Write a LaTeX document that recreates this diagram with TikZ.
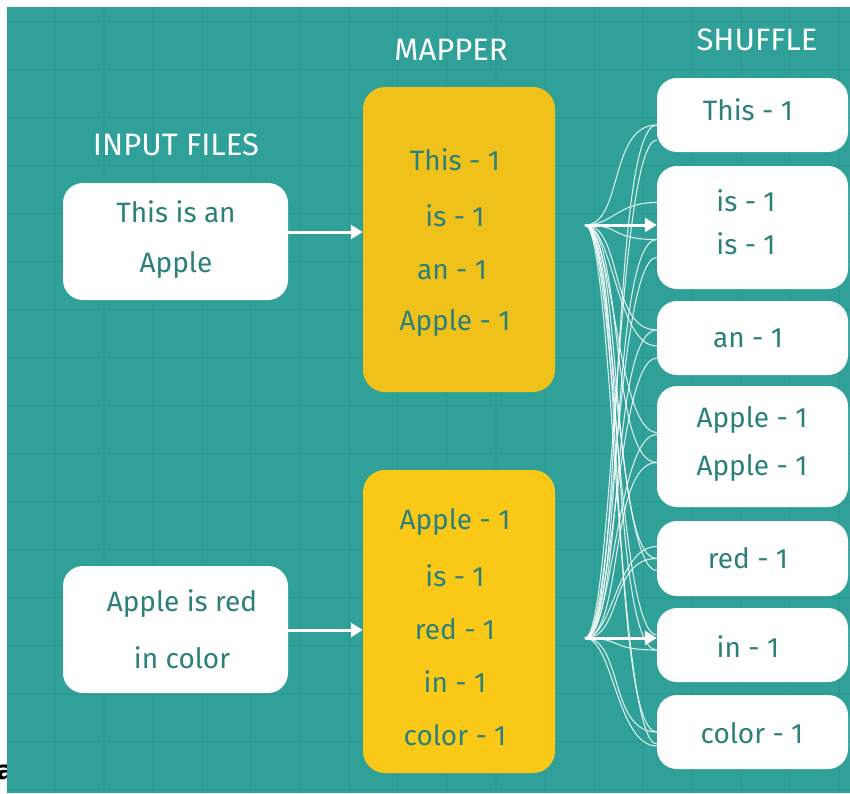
\documentclass[tikz,border=0pt]{standalone}
\usepackage{fontspec}
\setmainfont{Fira Sans}
\newfontfamily\markfont{DejaVu Sans}
\usetikzlibrary{arrows.meta}
\definecolor{bgteal}{RGB}{47,161,153}
\definecolor{gridteal}{RGB}{39,148,140}
\definecolor{inkteal}{RGB}{44,128,122}
\definecolor{mapgold}{RGB}{240,193,26}
\definecolor{mapyellow}{RGB}{250,200,22}
\tikzset{
  card/.style={fill=white, rounded corners=20pt, inner sep=0pt, draw=none},
  mapbox/.style={rounded corners=22pt, inner sep=0pt, draw=none},
  word/.style={text=inkteal, inner sep=0pt, font=\fontsize{28}{28}\selectfont},
  head/.style={text=white, inner sep=0pt, font=\fontsize{31}{31}\selectfont},
  gridline/.style={draw=gridteal, line width=1.6pt, opacity=0.45},
  fan/.style={draw=white, line width=1.1pt, opacity=0.8},
  bigarrow/.style={draw=white, line width=3pt, -{Triangle[length=12pt,width=14pt]}}
}
\begin{document}
\begin{tikzpicture}[x=1pt,y=-1pt]
\useasboundingbox (0,0) rectangle (850,793);
\fill[white] (0,0) rectangle (850,793);
% stray glyph at the lower left edge
\node[anchor=base east, inner sep=0pt, font=\markfont\bfseries\fontsize{26}{26}\selectfont] (stray) at (14,779) {a};
% teal board with its grid
\fill[bgteal] (7,7) rectangle (850,793);
\foreach \gx in {55,104,...,850} \draw[gridline] (\gx,7) -- (\gx,793);
\foreach \gy in {22,70,...,793} \draw[gridline] (7,\gy) -- (850,\gy);

% column headings
\node[head] (hin) at (176,145) {INPUT FILES};
\node[head] (hmap) at (451,50) {MAPPER};
\node[head] (hsh) at (757,40) {SHUFFLE};

% input files
\node[card, minimum width=225pt, minimum height=117pt] (in1) at (175.5,241.5) {};
\node[word] (in1a) at (176,212) {This is an};
\node[word] (in1b) at (176,265) {Apple};
\node[card, minimum width=225pt, minimum height=127pt] (in2) at (175.5,629.5) {};
\node[word] (in2a) at (182,604) {Apple is red};
\node[word] (in2b) at (182,658) {in color};

% mappers
\node[mapbox, fill=mapgold, minimum width=192pt, minimum height=305pt] (map1) at (459,239.5) {};
\node[word] (m1a) at (455,160) {This - 1};
\node[word] (m1b) at (455,216) {is - 1};
\node[word] (m1c) at (452,270) {an - 1};
\node[word] (m1d) at (455,323) {Apple - 1};
\node[mapbox, fill=mapyellow, minimum width=192pt, minimum height=303pt] (map2) at (459,621.5) {};
\node[word] (m2a) at (455,522) {Apple - 1};
\node[word] (m2b) at (455,576) {is - 1};
\node[word] (m2c) at (455,629) {red - 1};
\node[word] (m2d) at (455,682) {in - 1};
\node[word] (m2e) at (455,735) {color - 1};

% shuffle groups
\node[card, minimum width=191pt, minimum height=74pt] (sh1) at (752.5,115) {};
\node[word] (s1a) at (748,110) {This - 1};
\node[card, minimum width=191pt, minimum height=123pt] (sh2) at (752.5,227.5) {};
\node[word] (s2a) at (746,201) {is - 1};
\node[word] (s2b) at (746,244) {is - 1};
\node[card, minimum width=191pt, minimum height=74pt] (sh3) at (752.5,338) {};
\node[word] (s3a) at (748,338) {an - 1};
\node[card, minimum width=191pt, minimum height=121pt] (sh4) at (752.5,446.5) {};
\node[word] (s4a) at (752,420) {Apple - 1};
\node[word] (s4b) at (752,468) {Apple - 1};
\node[card, minimum width=191pt, minimum height=75pt] (sh5) at (752.5,558.5) {};
\node[word] (s5a) at (748,558) {red - 1};
\node[card, minimum width=191pt, minimum height=74pt] (sh6) at (752.5,645) {};
\node[word] (s6a) at (748,647) {in - 1};
\node[card, minimum width=191pt, minimum height=74pt] (sh7) at (752.5,732) {};
\node[word] (s7a) at (752,733) {color - 1};

% fan-out points to the right of the mappers
\coordinate (src1) at (585,225);
\coordinate (src2) at (585,638);

% thin shuffle curves from each mapper to every group
\foreach \dst/\off in {sh1/-10, sh2/-12, sh3/8, sh4/-16, sh5/0, sh6/-5, sh7/0} {
  \draw[fan] (src1) .. controls +(38,0) and +(-48,0) .. ([yshift=\off pt]\dst.west);
  \draw[fan] (src2) .. controls +(38,0) and +(-48,0) .. ([yshift=\off pt]\dst.west);
}
\foreach \dst/\off in {sh2/25, sh3/-8, sh4/14, sh5/-12, sh6/10, sh7/-12} {
  \draw[fan] (src1) .. controls +(28,0) and +(-40,0) .. ([yshift=\off pt]\dst.west);
}
\foreach \dst/\off in {sh1/-25, sh2/-30, sh3/-20, sh4/12, sh5/12, sh7/-14} {
  \draw[fan] (src2) .. controls +(28,0) and +(-40,0) .. ([yshift=\off pt]\dst.west);
}

% main arrows
\draw[bigarrow] ([yshift=9.5pt]in1.east) -- ([yshift=9.5pt]in1.east -| map1.west);
\draw[bigarrow] ([yshift=-0.5pt]in2.east) -- ([yshift=-0.5pt]in2.east -| map2.west);
\draw[bigarrow] (src1) -- (src1 -| sh2.west);
\draw[bigarrow] (src2) -- (src2 -| sh6.west);
\end{tikzpicture}
\end{document}
